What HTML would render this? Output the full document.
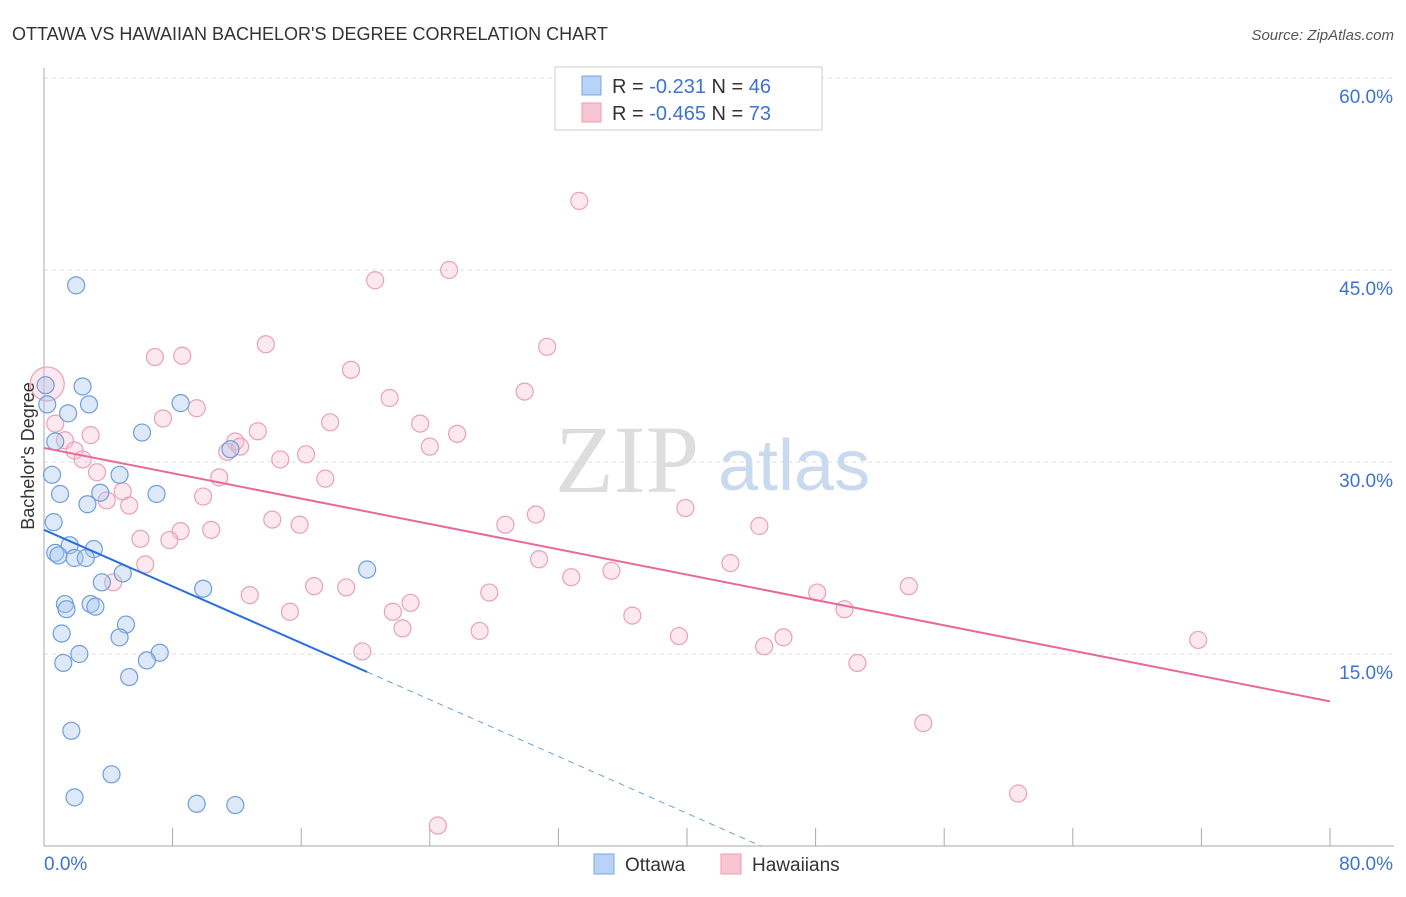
<!DOCTYPE html>
<html><head><meta charset="utf-8"><style>
body{margin:0;background:#fff;font-family:"Liberation Sans",sans-serif;}
</style></head><body>
<svg width="1406" height="892" xmlns="http://www.w3.org/2000/svg">
<text x="12" y="40" font-size="18" fill="#333">OTTAWA VS HAWAIIAN BACHELOR'S DEGREE CORRELATION CHART</text>
<text x="1394" y="40" font-size="15" fill="#555" font-style="italic" text-anchor="end">Source: ZipAtlas.com</text>
<g id="grid"></g>
<g id="axes"></g>
<text x="555" y="492" font-size="96" fill="#ddd" font-family="Liberation Serif">ZIP</text>
<text x="718" y="490" font-size="72" fill="#c9daf0">atlas</text>
<g id="marks"></g>
<text transform="translate(34,456) rotate(-90)" font-size="18" fill="#333" text-anchor="middle">Bachelor's Degree</text>
<g>
<rect x="555" y="67" width="267" height="63" fill="#fff" stroke="#ccc"/>
<rect x="582" y="76" width="19" height="19" fill="#b8d3f5" stroke="#7aa6e0"/>
<rect x="582" y="103" width="19" height="19" fill="#f8c5d3" stroke="#eb9ab0"/>
<text x="612" y="93" font-size="20" fill="#333">R = <tspan fill="#3d73d0"> -0.231</tspan>    N = <tspan fill="#3d73d0">46</tspan></text>
<text x="612" y="120" font-size="20" fill="#333">R = <tspan fill="#3d73d0">-0.465</tspan>    N = <tspan fill="#3d73d0">73</tspan></text>
</g>
<g>
<rect x="594" y="854" width="20" height="20" fill="#b8d3f5" stroke="#7aa6e0"/>
<text x="625" y="871" font-size="19" fill="#333">Ottawa</text>
<rect x="721" y="854" width="20" height="20" fill="#f8c5d3" stroke="#eb9ab0"/>
<text x="752" y="871" font-size="19" fill="#333">Hawaiians</text>
</g>
</svg>
<script>
const xTicks=[0,8,16,24,32,40,48,56,64,72,80];
const yTicks=[15,30,45,60];
const ottawaX=[2.0,2.4,2.8,0.2,1.5,8.5,6.1,0.7,0.5,4.7,1.0,3.5,7.0,2.7,0.6,1.6,3.1,0.7,0.9,1.9,2.6,4.9,3.6,9.9,20.1,1.3,2.9,1.4,3.2,5.1,1.1,4.7,2.2,7.2,6.4,1.2,5.3,1.7,4.2,1.9,9.5,11.9,11.6,0.1];
const ottawaY=[43.8,35.9,34.5,34.5,33.8,34.6,32.3,31.6,29.0,29.0,27.5,27.6,27.5,26.7,25.3,23.5,23.2,22.9,22.7,22.5,22.5,21.3,20.6,20.1,21.6,18.9,18.9,18.5,18.7,17.3,16.6,16.3,15.0,15.1,14.5,14.3,13.2,9.0,5.6,3.8,3.3,3.2,31.0,36.0];
const hawX=[33.3,25.2,20.6,13.8,31.3,6.9,8.6,19.1,29.9,21.5,9.5,7.4,17.8,23.4,13.3,25.7,2.9,0.7,1.3,11.9,24.0,11.4,12.2,1.9,2.4,14.7,16.3,3.3,10.9,17.5,4.9,3.9,9.9,5.3,39.9,30.6,14.2,15.9,28.7,44.5,8.5,10.4,6.0,7.8,30.8,42.7,6.3,32.8,35.3,16.8,18.8,53.8,27.7,12.8,48.1,22.8,4.3,15.3,21.7,49.8,36.6,22.3,27.1,39.5,46.0,44.8,71.8,19.8,50.6,54.7,60.6,24.5,0.2];
const hawY=[50.4,45.0,44.2,39.2,39.0,38.2,38.3,37.2,35.5,35.0,34.2,33.4,33.1,33.0,32.4,32.2,32.1,33.0,31.7,31.6,31.2,30.8,31.2,30.9,30.2,30.2,30.6,29.2,28.8,28.7,27.7,27.0,27.3,26.6,26.4,25.9,25.5,25.1,25.1,25.0,24.6,24.7,24.0,23.9,22.4,22.1,22.0,21.0,21.5,20.3,20.2,20.3,19.8,19.6,19.8,19.0,20.6,18.3,18.3,18.5,18.0,17.0,16.8,16.4,16.3,15.6,16.1,15.2,14.3,9.6,4.1,1.6,36.1];
const ottawaTrend=[[0,24.7],[20.1,13.6]];
const ottawaDash=[[20.1,13.6],[44.6,0]];
const hawTrend=[[0,31.1],[80,11.3]];
const NS='http://www.w3.org/2000/svg';
const X=v=>44+v/80*1286, Y=v=>846-v/15*192;
function mk(p,t,a){const e=document.createElementNS(NS,t);for(const k in a)e.setAttribute(k,a[k]);p.appendChild(e);return e;}
const grid=document.getElementById('grid'),axes=document.getElementById('axes'),marks=document.getElementById('marks');
yTicks.forEach(v=>{const l=mk(grid,'line',{x1:44,x2:1394,y1:Y(v),y2:Y(v),stroke:'#ddd','stroke-dasharray':'4,4'});


const t=mk(axes,'text',{x:1393,y:Y(v)+25,'font-size':19,fill:'#3d73d0','text-anchor':'end'});t.textContent=v.toFixed(1)+'%';

});
const ya=mk(axes,'line',{x1:44,x2:44,y1:68,y2:846,stroke:'#aaa'});


const xa=mk(axes,'line',{x1:44,x2:1394,y1:846,y2:846,stroke:'#aaa'});


xTicks.forEach(v=>{const l=mk(axes,'line',{x1:X(v),x2:X(v),y1:828,y2:846,stroke:'#aaa'});

});
[[0,44,'start'],[80,1393,'end']].forEach(([v,x,a])=>{const t=mk(axes,'text',{x:x,y:870,'font-size':19,fill:'#3d73d0','text-anchor':a});t.textContent=v.toFixed(1)+'%';

});
hawX.forEach((v,i)=>{const c=mk(marks,'circle',{cx:X(v),cy:Y(hawY[i]),r:i==hawX.length-1?17:8.5,fill:'rgba(248,190,208,0.35)',stroke:'#eaa0b6','stroke-width':1.2});

});
ottawaX.forEach((v,i)=>{const c=mk(marks,'circle',{cx:X(v),cy:Y(ottawaY[i]),r:8.5,fill:'rgba(170,200,240,0.4)',stroke:'#6f9ddb','stroke-width':1.2});

});
const l1=mk(marks,'line',{x1:X(hawTrend[0][0]),y1:Y(hawTrend[0][1]),x2:X(hawTrend[1][0]),y2:Y(hawTrend[1][1]),stroke:'#e8689a','stroke-width':2});


const l2=mk(marks,'line',{x1:X(ottawaTrend[0][0]),y1:Y(ottawaTrend[0][1]),x2:X(ottawaTrend[1][0]),y2:Y(ottawaTrend[1][1]),stroke:'#2a6fdb','stroke-width':2});


const l3=mk(marks,'line',{x1:X(ottawaDash[0][0]),y1:Y(ottawaDash[0][1]),x2:X(ottawaDash[1][0]),y2:Y(ottawaDash[1][1]),stroke:'#6f9ddb','stroke-width':1,'stroke-dasharray':'6,5'});


</script>
</body></html>
